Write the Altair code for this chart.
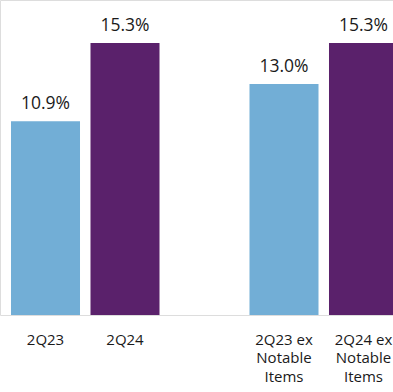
import altair as alt
import pandas as pd

categories = ["2Q23", "2Q24", "2Q23 ex\nNotable\nItems", "2Q24 ex\nNotable\nItems"]
values = [10.9, 15.3, 13.0, 15.3]
labels = ["10.9%", "15.3%", "13.0%", "15.3%"]
series = ["prior", "current", "prior", "current"]
domain_order = ["2Q23", "2Q24", " ", "2Q23 ex\nNotable\nItems", "2Q24 ex\nNotable\nItems"]

df = pd.DataFrame({"cat": categories, "value": values, "label": labels, "series": series})

FONT = "Open Sans"

x = alt.X(
    "cat:N",
    sort=domain_order,
    scale=alt.Scale(domain=domain_order, range=[5, 404], paddingInner=0.132, paddingOuter=0.0755),
    axis=alt.Axis(
        title=None,
        labelAngle=0,
        labelExpr="split(datum.label, '\\n')",
        labelFont=FONT,
        labelFontSize=15,
        labelColor="#1a1a1a",
        labelLineHeight=18.5,
        labelPadding=17,
        ticks=False,
        domainColor="#dddddd",
        domainWidth=1,
        labelOverlap=False,
    ),
)
y = alt.Y(
    "value:Q",
    scale=alt.Scale(domain=[0, 17.72], nice=False, zero=True),
    axis=None,
)

bars = alt.Chart(df).mark_bar().encode(
    x=x,
    y=y,
    color=alt.Color(
        "series:N",
        scale=alt.Scale(domain=["prior", "current"], range=["#72aed6", "#5a216b"]),
        legend=None,
    ),
)

text = alt.Chart(df).mark_text(
    font=FONT, fontSize=17.5, dy=-12, baseline="alphabetic", color="#1a1a1a"
).encode(x=x, y=y, text="label:N")

chart = (
    alt.layer(bars, text)
    .properties(width=393, height=315, padding={"left": 0, "right": 0, "top": 0, "bottom": 77},
                autosize=alt.AutoSizeParams(type="none"))
    .configure_view(stroke=None)
    .configure(background="white")
)

chart.save("out.html", embed_options={"renderer": "svg", "actions": False})
